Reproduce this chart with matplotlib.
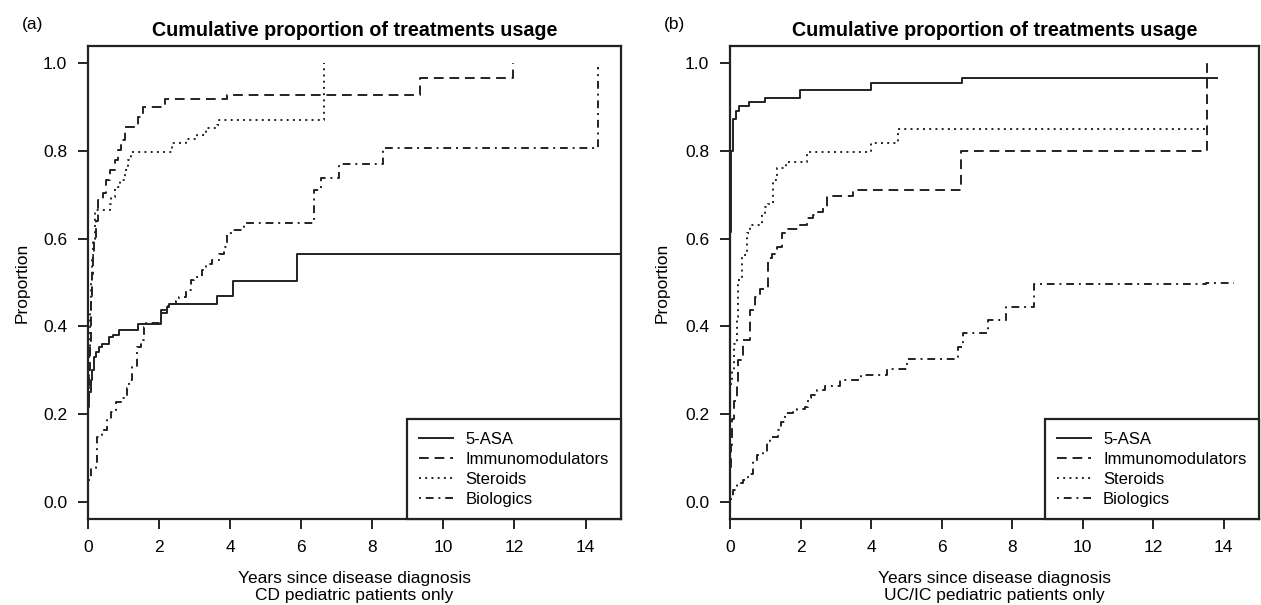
import matplotlib
matplotlib.use("Agg")
import matplotlib.pyplot as plt
from matplotlib.lines import Line2D

plt.rcParams['font.family'] = ['Liberation Sans', 'DejaVu Sans']

# ---- data (years since diagnosis, cumulative proportion) ----
series_names = ["5-ASA", "Immunomodulators", "Steroids", "Biologics"]

# (a) CD pediatric patients
asa_a_t = [0, 0.03, 0.075, 0.12, 0.17, 0.235, 0.31, 0.40, 0.59, 0.69, 0.87, 1.42, 2.05, 2.21, 2.28, 3.63, 4.07, 5.89, 15]
asa_a_y = [0.216, 0.25, 0.278, 0.30, 0.331, 0.342, 0.354, 0.361, 0.376, 0.381, 0.391, 0.406, 0.43, 0.445, 0.452, 0.47, 0.503, 0.565, 0.565]

imm_a_t = [0, 0.03, 0.05, 0.07, 0.09, 0.11, 0.14, 0.17, 0.22, 0.28, 0.42, 0.52, 0.61, 0.75, 0.85, 0.94, 1.03, 1.41, 1.55, 2.17, 3.9, 9.35, 11.97]
imm_a_y = [0.23, 0.30, 0.36, 0.42, 0.47, 0.52, 0.56, 0.60, 0.64, 0.688, 0.703, 0.733, 0.756, 0.78, 0.801, 0.824, 0.855, 0.877, 0.90, 0.917, 0.927, 0.965, 1.0]

ste_a_t = [0, 0.02, 0.05, 0.08, 0.11, 0.14, 0.2, 0.62, 0.66, 0.75, 0.89, 1.03, 1.13, 1.22, 2.37, 2.75, 3.08, 3.31, 3.64, 3.69, 6.63]
ste_a_y = [0.26, 0.34, 0.43, 0.50, 0.56, 0.60, 0.665, 0.68, 0.695, 0.718, 0.733, 0.756, 0.78, 0.798, 0.817, 0.828, 0.836, 0.851, 0.859, 0.87, 1.0]

bio_a_t = [0, 0.075, 0.216, 0.263, 0.40, 0.545, 0.638, 0.78, 0.92, 1.01, 1.1, 1.15, 1.25, 1.39, 1.48, 1.58, 1.62,
           2.05, 2.24, 2.47, 2.56, 2.75, 2.89, 2.98, 3.22, 3.31, 3.5, 3.69, 3.83, 3.92, 4.07, 4.4, 6.35, 6.55, 7.05, 8.3, 14.35]
bio_a_y = [0.05, 0.077, 0.088, 0.149, 0.164, 0.187, 0.206, 0.229, 0.236, 0.244, 0.259, 0.278, 0.308, 0.354, 0.369, 0.399, 0.407,
           0.437, 0.452, 0.459, 0.467, 0.482, 0.505, 0.513, 0.528, 0.543, 0.551, 0.566, 0.582, 0.612, 0.62, 0.636, 0.711, 0.737, 0.769, 0.806, 0.99]

# (b) UC/IC pediatric patients
asa_b_t = [0, 0.02, 0.09, 0.17, 0.26, 0.55, 1.0, 1.98, 3.99, 6.58, 13.8]
asa_b_y = [0.616, 0.80, 0.873, 0.891, 0.903, 0.912, 0.92, 0.939, 0.955, 0.967, 0.967]

imm_b_t = [0, 0.03, 0.06, 0.12, 0.19, 0.24, 0.38, 0.57, 0.71, 0.85, 1.08, 1.18, 1.32, 1.47, 1.65, 1.98, 2.17, 2.36, 2.5, 2.64, 2.74, 3.48, 6.55, 13.52]
imm_b_y = [0.08, 0.13, 0.19, 0.23, 0.27, 0.324, 0.369, 0.437, 0.467, 0.486, 0.555, 0.566, 0.582, 0.612, 0.623, 0.631, 0.646, 0.654, 0.661, 0.669, 0.697, 0.711, 0.80, 1.0]

ste_b_t = [0, 0.05, 0.1, 0.19, 0.24, 0.33, 0.47, 0.57, 0.9, 0.99, 1.09, 1.23, 1.32, 1.6, 2.17, 4.0, 4.77, 13.5]
ste_b_y = [0.27, 0.30, 0.361, 0.422, 0.506, 0.563, 0.612, 0.631, 0.657, 0.672, 0.68, 0.733, 0.76, 0.775, 0.798, 0.817, 0.85, 0.85]

bio_b_t = [0, 0.09, 0.19, 0.38, 0.52, 0.66, 0.76, 0.94, 1.04, 1.13, 1.37, 1.46, 1.56, 1.8, 1.89, 2.12, 2.22, 2.31, 2.46, 2.69,
           3.12, 3.71, 4.45, 5.02, 6.47, 6.6, 7.33, 7.83, 8.63, 13.49, 14.3]
bio_b_y = [0.008, 0.027, 0.043, 0.05, 0.065, 0.096, 0.107, 0.111, 0.14, 0.149, 0.164, 0.183, 0.202, 0.206, 0.213, 0.217, 0.236, 0.244, 0.255, 0.264,
           0.278, 0.289, 0.304, 0.325, 0.354, 0.386, 0.415, 0.445, 0.497, 0.50, 0.50]

panels = [
    ("(a)", "CD pediatric patients only",
     [(asa_a_t, asa_a_y), (imm_a_t, imm_a_y), (ste_a_t, ste_a_y), (bio_a_t, bio_a_y)]),
    ("(b)", "UC/IC pediatric patients only",
     [(asa_b_t, asa_b_y), (imm_b_t, imm_b_y), (ste_b_t, ste_b_y), (bio_b_t, bio_b_y)]),
]

# R style line types: solid, dashed, dotted, dotdash
styles = ['-', (0, (5, 3)), (0, (1, 2.2)), (0, (1, 2.5, 4, 2.5))]
ink = '#222222'

fig = plt.figure(figsize=(12.61, 6.05), dpi=100)
axes_rects = [[0.0698, 0.1421, 0.4227, 0.7818], [0.5789, 0.1421, 0.4195, 0.7818]]
tag_x = [22 / 1261, 664 / 1261]
ylab_x = [-0.11, -0.115]

for i, (tag, subtitle, curves) in enumerate(panels):
    ax = fig.add_axes(axes_rects[i])
    for (t, y), ls in zip(curves, styles):
        ax.step(t, y, where='post', color=ink, lw=1.4, linestyle=ls)

    ax.set_xlim(0, 15)
    ax.set_ylim(-0.0387, 1.0387)
    ax.set_xticks(range(0, 15, 2))
    ax.set_yticks([0, 0.2, 0.4, 0.6, 0.8, 1.0])
    ax.set_yticklabels(["0.0", "0.2", "0.4", "0.6", "0.8", "1.0"])
    ax.tick_params(direction='out', length=7.5, width=1.4, labelsize=12.5, pad=7.5, color=ink)
    for s in ax.spines.values():
        s.set_linewidth(1.6)
        s.set_color(ink)

    ax.set_title("Cumulative proportion of treatments usage", fontsize=14.2,
                 fontweight='bold', pad=7)
    ax.set_ylabel("Proportion", fontsize=12.5)
    ax.yaxis.set_label_coords(ylab_x[i], 0.5)
    ax.set_xlabel("Years since disease diagnosis\n" + subtitle, fontsize=12.5, linespacing=1.2)
    ax.xaxis.set_label_coords(0.5, -0.11)

    handles = [Line2D([], [], color=ink, lw=1.4, linestyle=ls) for ls in styles]
    leg = ax.legend(handles, series_names, loc='lower right', bbox_to_anchor=(1, 0),
                    borderaxespad=0, fancybox=False, framealpha=1, fontsize=12,
                    handlelength=2.0, handletextpad=0.75, labelspacing=0.3,
                    borderpad=0.75)
    leg.get_frame().set_edgecolor(ink)
    leg.get_frame().set_linewidth(1.6)

    fig.text(tag_x[i], 1 - 25 / 605, tag, fontsize=12.5, ha='left', va='center')

fig.savefig("out.png", dpi=100)
